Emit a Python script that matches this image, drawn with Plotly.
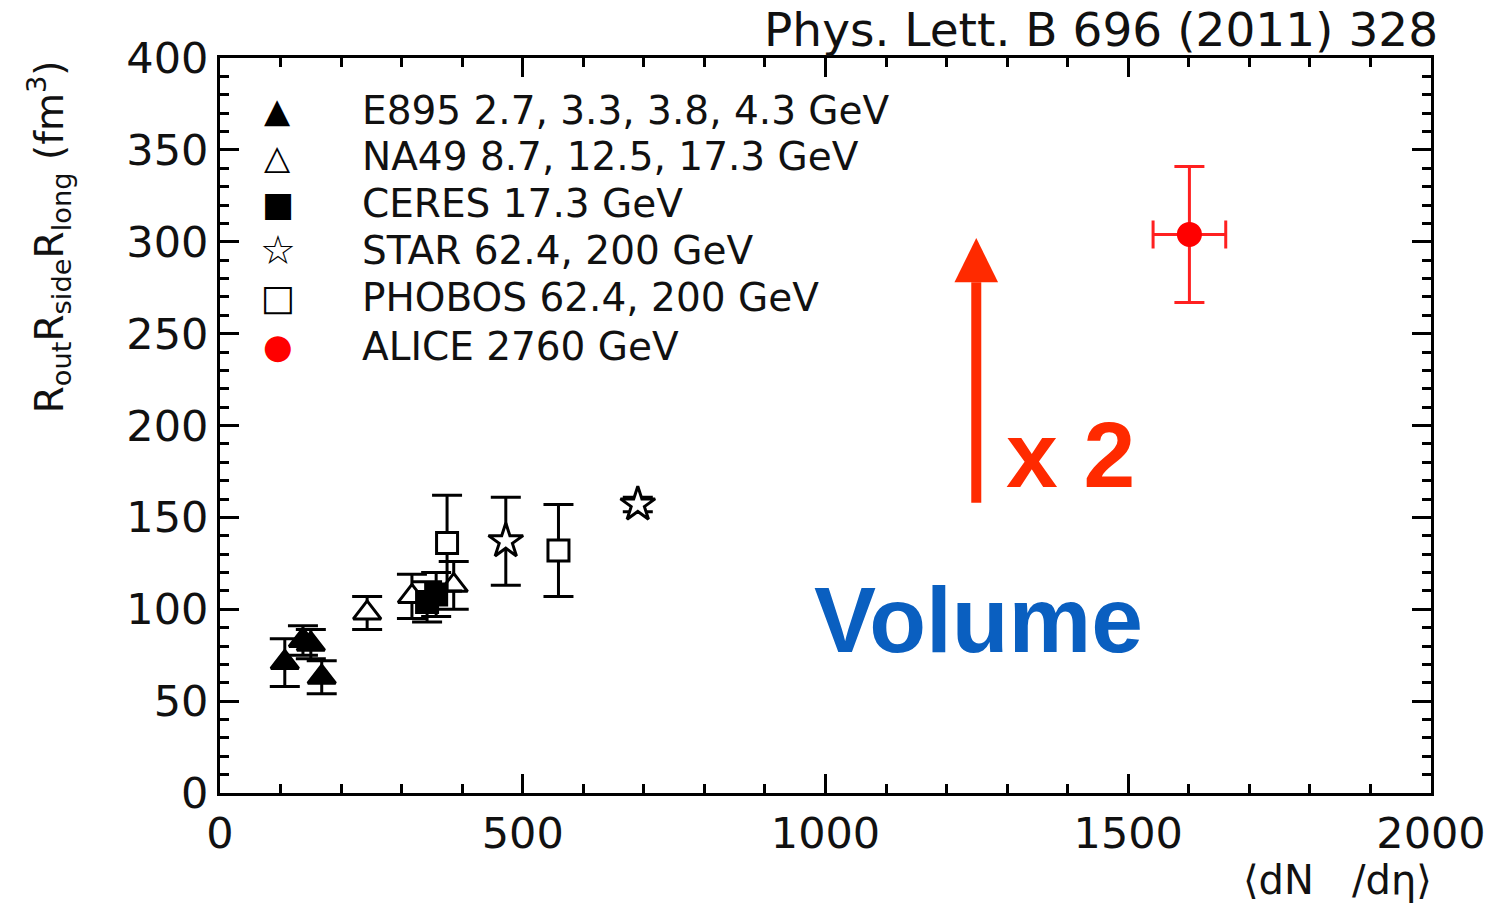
import plotly.graph_objects as go

# ---------------- data ----------------
e895_x = [107, 137, 150, 168]
e895_y = [71, 83, 81, 63]
e895_err = [13, 8, 8, 9]

na49_x = [243, 317, 386]
na49_y = [98, 107, 113]
na49_err = [9, 12, 13]

ceres_x = [342, 357]
ceres_y = [104, 108]
ceres_err = [11, 12]

star_x = [472, 690]
star_y = [137, 157]
star_err = [24, 4]

phobos_x = [375, 559]
phobos_y = [136, 132]
phobos_err = [26, 25]

alice_x = [1601]
alice_y = [304]
alice_xerr = [60]
alice_yerr = [37]

legend_labels = [
    "E895 2.7, 3.3, 3.8, 4.3 GeV",
    "NA49 8.7, 12.5, 17.3 GeV",
    "CERES 17.3 GeV",
    "STAR 62.4, 200 GeV",
    "PHOBOS 62.4, 200 GeV",
    "ALICE 2760 GeV",
]
legend_glyphs = ["\u25B2", "\u25B3", "\u25A0", "\u2606", "\u25A1", "\u25CF"]
legend_glyph_sizes = [34, 34, 34, 40, 36, 34]
legend_colors = ["black", "black", "black", "black", "black", "#ff0000"]

arrow_x = 1249
arrow_y0 = 158
arrow_y1 = 302

FONT = "DejaVu Sans"
RED = "#ff2a00"
BLUE = "#0a5fc0"

fig = go.Figure()


def add_series(name, x, y, ey, symbol, fill, line_color, size, ex=None, err_color="black"):
    tr = dict(
        x=x, y=y, mode="markers", name=name, showlegend=False,
        marker=dict(symbol=symbol, size=size, color=fill,
                    line=dict(color=line_color, width=3)),
        error_y=dict(type="data", array=ey, visible=True, color=err_color,
                     thickness=3, width=15),
    )
    if ex is not None:
        tr["error_x"] = dict(type="data", array=ex, visible=True, color=err_color,
                             thickness=3, width=14)
    fig.add_trace(go.Scatter(**tr))


add_series("E895", e895_x, e895_y, e895_err, "triangle-up", "black", "black", 24)
add_series("NA49", na49_x, na49_y, na49_err, "triangle-up", "white", "black", 24)
add_series("CERES", ceres_x, ceres_y, ceres_err, "square", "black", "black", 21)
add_series("STAR", star_x, star_y, star_err, "star", "white", "black", 26)
add_series("PHOBOS", phobos_x, phobos_y, phobos_err, "square", "white", "black", 21)
add_series("ALICE", alice_x, alice_y, alice_yerr, "circle", "#ff0000", "#ff0000", 22,
           ex=alice_xerr, err_color="#ff2020")

# red arrow: shaft + head
head_base = arrow_y1 - 24
fig.add_shape(type="line", xref="x", yref="y", x0=arrow_x, x1=arrow_x,
              y0=arrow_y0, y1=head_base, line=dict(color=RED, width=10))
fig.add_shape(type="path", xref="x", yref="y",
              path=f"M {arrow_x-36},{head_base} L {arrow_x+36},{head_base} L {arrow_x},{arrow_y1} Z",
              fillcolor=RED, line=dict(color=RED, width=0))

annotations = []
annotations.append(dict(x=1405, y=184, xref="x", yref="y", text="<b>x 2</b>", showarrow=False,
                        font=dict(family="Liberation Sans", size=93, color=RED),
                        xanchor="center", yanchor="middle"))
annotations.append(dict(x=1253, y=94, xref="x", yref="y", text="<b>Volume</b>", showarrow=False,
                        font=dict(family="Liberation Sans", size=93, color=BLUE),
                        xanchor="center", yanchor="middle"))

# legend rows (drawn as text)
row_px = [110, 157, 204, 250, 297, 346]
for lab, g, gs, c, py in zip(legend_labels, legend_glyphs, legend_glyph_sizes, legend_colors, row_px):
    yp = (793 - py) / 735
    annotations.append(dict(x=(278 - 220) / 1217, y=yp, xref="paper", yref="paper", text=g,
                            showarrow=False, font=dict(family=FONT, size=gs, color=c),
                            xanchor="center", yanchor="middle"))
    annotations.append(dict(x=(361 - 220) / 1217, y=yp, xref="paper", yref="paper", text=lab,
                            showarrow=False, font=dict(family=FONT, size=39, color="#111"),
                            xanchor="left", yanchor="middle"))

# title
annotations.append(dict(x=(1446 - 220) / 1217, y=(793 - 30) / 735, xref="paper", yref="paper",
                        text="Phys. Lett. B 696 (2011) 328", showarrow=False,
                        font=dict(family=FONT, size=47, color="#111"),
                        xanchor="right", yanchor="middle"))
# x-axis title
annotations.append(dict(x=(1440 - 220) / 1217, y=(793 - 880) / 735, xref="paper", yref="paper",
                        text="\u27E8dN   /d\u03B7\u27E9", showarrow=False,
                        font=dict(family=FONT, size=40, color="#111"),
                        xanchor="right", yanchor="middle"))
# y-axis title
annotations.append(dict(x=(48 - 220) / 1217, y=(793 - 58) / 735, xref="paper", yref="paper",
                        text="R<sub>out</sub>R<sub>side</sub>R<sub>long</sub> (fm<sup>3</sup>)",
                        showarrow=False, textangle=-90,
                        font=dict(family=FONT, size=39, color="#111"),
                        xanchor="center", yanchor="top"))

axis_common = dict(
    showgrid=False, zeroline=False, showline=True, linecolor="black", linewidth=3,
    mirror="allticks", ticks="inside", ticklen=19, tickwidth=2.5, tickcolor="black",
    tickfont=dict(family=FONT, size=43, color="#111"),
)

fig.update_layout(
    width=1498, height=903,
    margin=dict(l=220, r=61, t=58, b=110),
    paper_bgcolor="white", plot_bgcolor="white",
    xaxis=dict(range=[0, 2000], tickvals=[0, 500, 1000, 1500, 2000],
               minor=dict(dtick=100, ticks="inside", ticklen=9, tickwidth=2.5, tickcolor="black"),
               **axis_common),
    yaxis=dict(range=[0, 400], tickvals=[0, 50, 100, 150, 200, 250, 300, 350, 400],
               minor=dict(dtick=10, ticks="inside", ticklen=9, tickwidth=2.5, tickcolor="black"),
               **axis_common),
    annotations=annotations,
    showlegend=False,
)

fig.write_html("out.html")
